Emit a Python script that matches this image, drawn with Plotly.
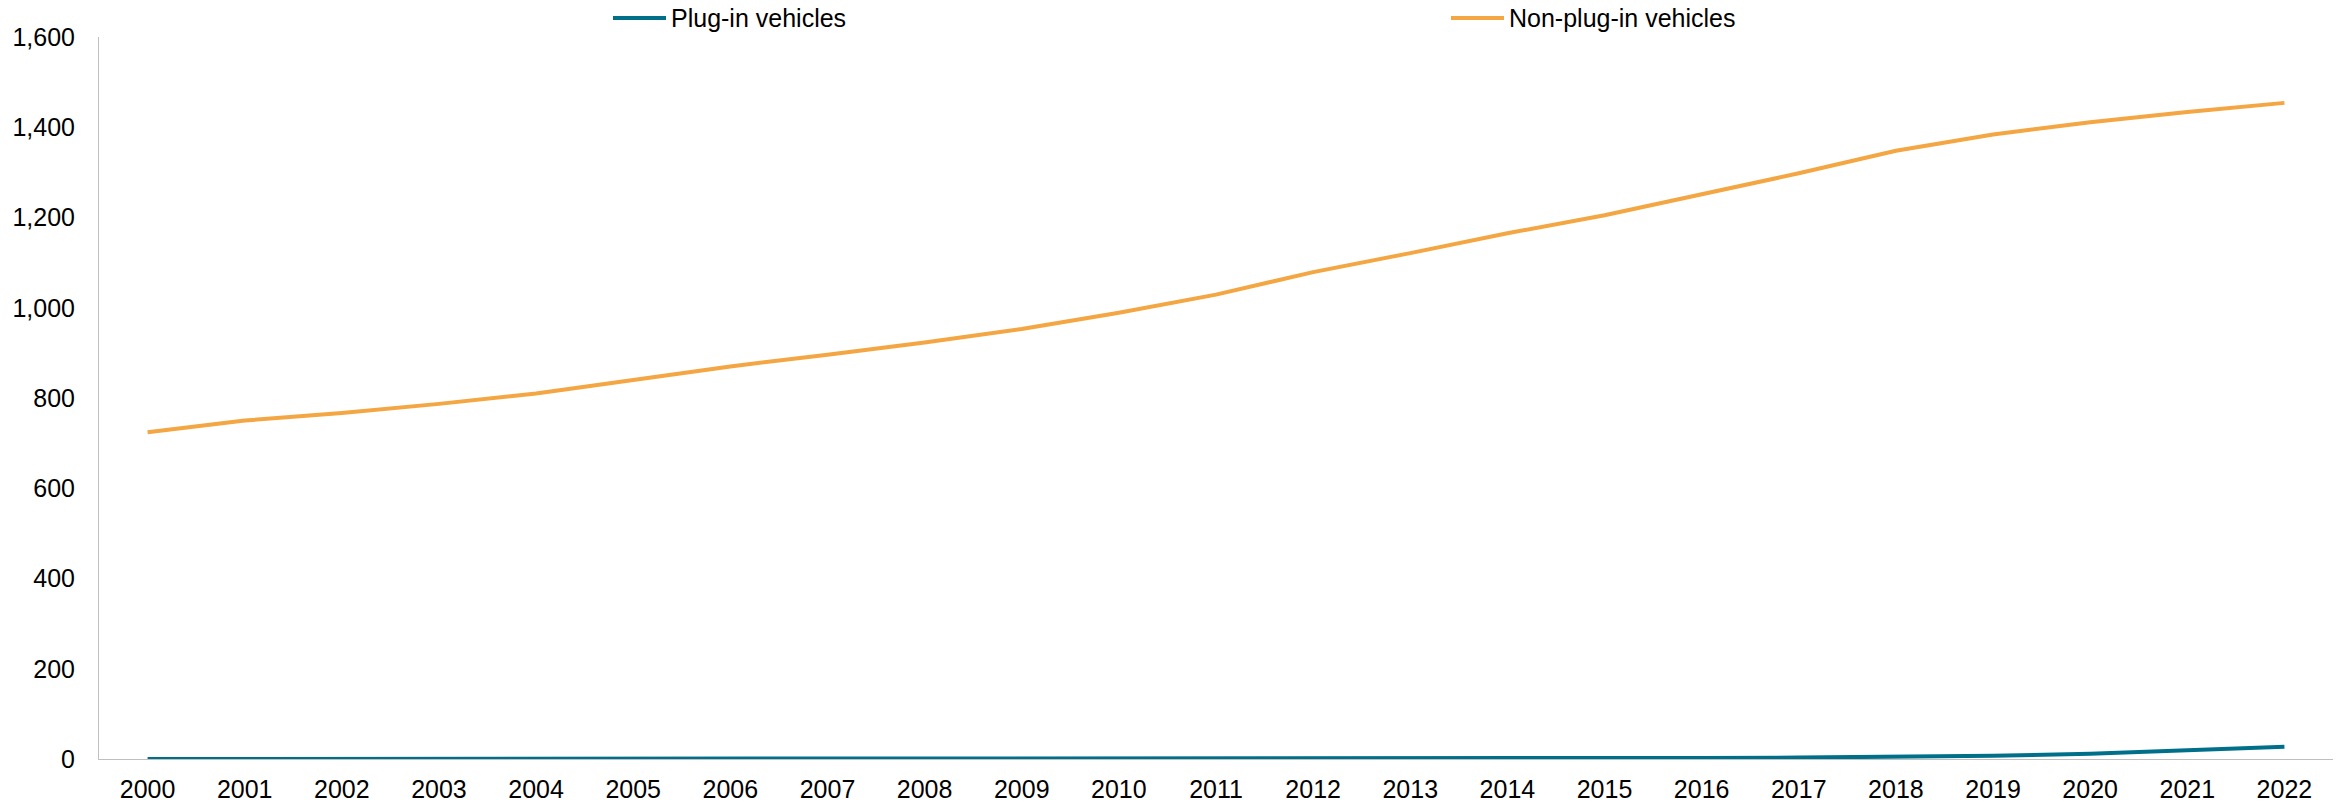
import plotly.graph_objects as go

years = [str(y) for y in range(2000, 2023)]
plug_in = [0, 0, 0, 0, 0, 0, 0, 0, 0, 0, 0, 0.1, 0.3, 0.6, 1.0, 1.5, 2.2, 3.2, 4.8, 7.0, 11.5, 19.5, 27.0]
non_plug_in = [724, 750, 767, 787, 810, 840, 870, 896, 923, 953, 989, 1029, 1079, 1121, 1165, 1205, 1251, 1298, 1348, 1384, 1411, 1434, 1454]
y_ticks = [0, 200, 400, 600, 800, 1000, 1200, 1400, 1600]
series_names = ["Plug-in vehicles", "Non-plug-in vehicles"]

TEAL = "#00708A"
ORANGE = "#F3A642"
FONT = "Liberation Sans, Arial, sans-serif"

# plot area in pixels
L, R, T, B = 99, 2333, 37, 759


def px_x(p):
    return (p - L) / (R - L)


def px_y(p):
    return (B - p) / (B - T)


fig = go.Figure()
fig.add_trace(go.Scatter(x=years, y=plug_in, mode="lines", name=series_names[0],
                         line=dict(color=TEAL, width=4)))
fig.add_trace(go.Scatter(x=years, y=non_plug_in, mode="lines", name=series_names[1],
                         line=dict(color=ORANGE, width=4)))

# custom legend (longer swatches like the reference)
legend_items = [(series_names[0], TEAL, 613), (series_names[1], ORANGE, 1451)]
for name, color, x0 in legend_items:
    fig.add_shape(type="line", xref="paper", yref="paper",
                  x0=px_x(x0), x1=px_x(x0 + 53), y0=px_y(18), y1=px_y(18),
                  line=dict(color=color, width=4))
    fig.add_annotation(xref="paper", yref="paper", x=px_x(x0 + 56), y=px_y(18),
                       xanchor="left", yanchor="middle", text=name, showarrow=False,
                       font=dict(family=FONT, size=25, color="#000000"))

fig.update_layout(
    width=2346, height=803,
    margin=dict(l=L, r=2346 - R, t=T, b=803 - B, autoexpand=False),
    paper_bgcolor="white", plot_bgcolor="white",
    font=dict(family=FONT, size=25, color="#000000"),
    showlegend=False,
    xaxis=dict(type="category", range=[-0.5, 22.5], showgrid=False, zeroline=False,
               showline=True, linecolor="#BFBFBF", linewidth=1, ticks="",
               tickfont=dict(family=FONT, size=25, color="#000000"),
               ticklabelstandoff=8),
    yaxis=dict(range=[0, 1600], tickvals=y_ticks, tickformat=",d", showgrid=False,
               zeroline=False, showline=True, linecolor="#BFBFBF", linewidth=1, ticks="",
               tickfont=dict(family=FONT, size=25, color="#000000"),
               ticklabelstandoff=18),
)

fig.write_html("out.html")
